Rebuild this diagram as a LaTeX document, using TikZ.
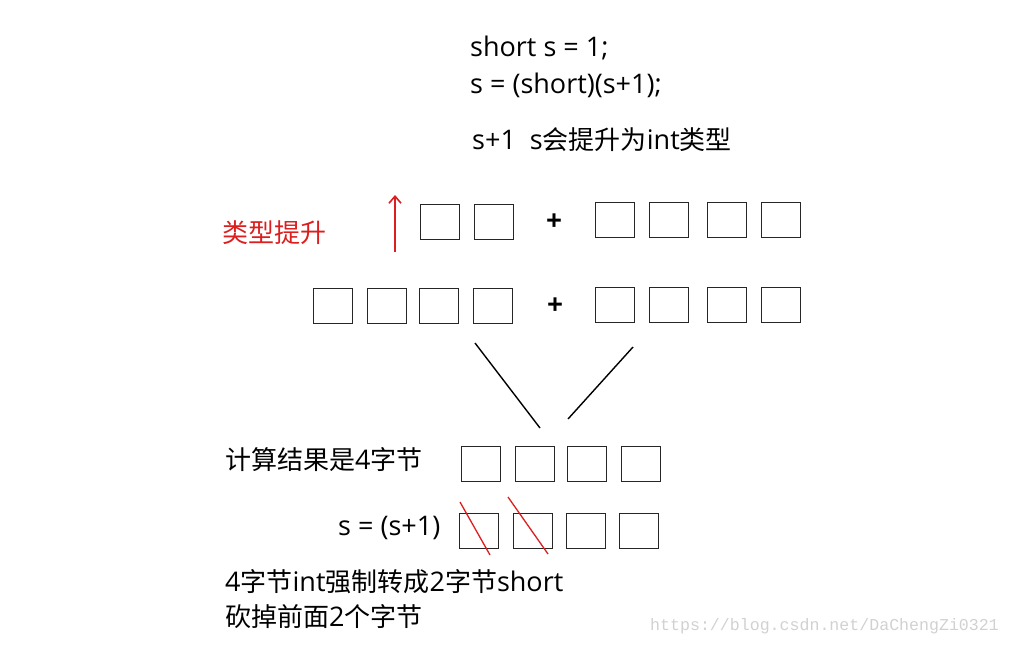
\documentclass[tikz,border=0pt]{standalone}
\usepackage{fontspec}
\setmainfont{Open Sans}
\newfontfamily\cjk{Noto Sans CJK SC}
\newfontfamily\wmfont{Liberation Mono}
\newcommand{\zh}[1]{{\cjk\fontsize{26}{30}\selectfont #1}}
\usetikzlibrary{arrows.meta}
\definecolor{redline}{RGB}{220,30,30}
\tikzset{
  cell/.style={draw=black!85, line width=1.1pt, minimum width=39pt, minimum height=35pt, inner sep=0pt, anchor=north west},
  txt/.style={anchor=west, inner sep=0pt, font=\fontsize{27}{32}\selectfont},
  redtxt/.style={txt, text=redline},
  plus/.style={inner sep=0pt, font=\fontsize{28}{32}\selectfont\bfseries},
  blk/.style={line width=1.4pt, black},
  strike/.style={line width=1.3pt, redline},
}
\begin{document}
\begin{tikzpicture}[x=1pt,y=-1pt]
\useasboundingbox (0,0) rectangle (1011,646);
% top code
\node[txt] (c1) at (470,48) {short s = 1;};
\node[txt] (c2) at (470,85) {s = (short)(s+1);};
\node[txt] (c3) at (472,140) {s+1\ \ s\zh{会提升为}int\zh{类型}};
% row 1
\node[redtxt] (tl) at (222,233) {\zh{类型提升}};
\coordinate (abot) at (395,252);
\coordinate (atop) at (395,195);
\draw[redline, line width=1.6pt, -{Straight Barb[length=7pt,width=12pt]}] (abot) -- (atop);
\node[cell] (a1) at (420,204) {};
\node[cell] (a2) at (474,204) {};
\node[plus] (p1) at (554,222) {+};
\node[cell] (b1) at (595,202) {};
\node[cell] (b2) at (649,202) {};
\node[cell] (b3) at (707,202) {};
\node[cell] (b4) at (761,202) {};
% row 2
\node[cell] (d1) at (313,288) {};
\node[cell] (d2) at (367,288) {};
\node[cell] (d3) at (419,288) {};
\node[cell] (d4) at (473,288) {};
\node[plus] (p2) at (555,306) {+};
\node[cell] (e1) at (595,287) {};
\node[cell] (e2) at (649,287) {};
\node[cell] (e3) at (707,287) {};
\node[cell] (e4) at (761,287) {};
% converging lines
\coordinate (l1a) at (475,343);
\coordinate (l1b) at (540,428);
\coordinate (l2a) at (633,347);
\coordinate (l2b) at (568,419);
\draw[blk] (l1a) -- (l1b);
\draw[blk] (l2a) -- (l2b);
% row 3
\node[txt] (t3) at (225,460) {\zh{计算结果是}4\zh{字节}};
\node[cell] (f1) at (461,446) {};
\node[cell] (f2) at (515,446) {};
\node[cell] (f3) at (567,446) {};
\node[cell] (f4) at (621,446) {};
% row 4
\node[txt] (t4) at (338,528) {s = (s+1)};
\node[cell] (g1) at (459,513) {};
\node[cell] (g2) at (513,513) {};
\node[cell] (g3) at (566,513) {};
\node[cell] (g4) at (619,513) {};
\coordinate (s1a) at (460,502);
\coordinate (s1b) at (490,555);
\coordinate (s2a) at (508,497);
\coordinate (s2b) at (548,554);
\draw[strike] (s1a) -- (s1b);
\draw[strike] (s2a) -- (s2b);
% bottom text
\node[txt] (t5) at (225,582) {4\zh{字节}int\zh{强制转成}2\zh{字节}short};
\node[txt] (t6) at (225,617) {\zh{砍掉前面}2\zh{个字节}};
% watermark
\node[anchor=west, inner sep=0pt, text=black!18, font=\wmfont\fontsize{16.6}{20}\selectfont] (wm) at (650,626) {https://blog.csdn.net/DaChengZi0321};
\end{tikzpicture}
\end{document}
